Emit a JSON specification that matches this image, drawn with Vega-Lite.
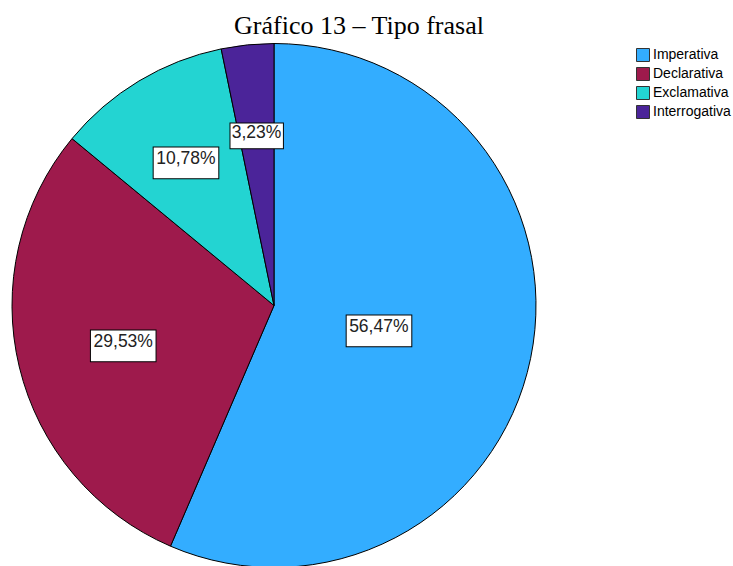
{
  "$schema": "https://vega.github.io/schema/vega-lite/v6.json",
  "autosize": {"type": "none"},
  "width": 548,
  "height": 611,
  "padding": {"left": 0, "top": 0, "right": 185, "bottom": -45},
  "background": "white",
  "title": {
    "text": "Gráfico 13 – Tipo frasal",
    "anchor": "middle",
    "frame": "group",
    "offset": 0,
    "dx": 85,
    "dy": 39,
    "font": "Liberation Serif",
    "fontSize": 26,
    "fontWeight": "normal",
    "color": "black"
  },
  "data": {
    "values": [
      {"category": "Imperativa", "ord": 1, "pct": 56.47, "label": "56,47%"},
      {"category": "Declarativa", "ord": 2, "pct": 29.53, "label": "29,53%"},
      {"category": "Exclamativa", "ord": 3, "pct": 10.78, "label": "10,78%"},
      {"category": "Interrogativa", "ord": 4, "pct": 3.23, "label": "3,23%"}
    ]
  },
  "encoding": {
    "theta": {"field": "pct", "type": "quantitative", "stack": true},
    "order": {"field": "ord", "type": "quantitative"}
  },
  "layer": [
    {
      "mark": {"type": "arc", "outerRadius": 262, "stroke": "black", "strokeWidth": 1},
      "encoding": {
        "color": {
          "field": "category",
          "type": "nominal",
          "scale": {
            "domain": ["Imperativa", "Declarativa", "Exclamativa", "Interrogativa"],
            "range": ["#33adff", "#9e1a4c", "#23d4d2", "#4b2499"]
          },
          "legend": {
            "title": null,
            "orient": "none",
            "legendX": 636,
            "legendY": 48,
            "padding": 0,
            "symbolType": "square",
            "symbolSize": 169,
            "symbolStrokeColor": "#333333",
            "symbolStrokeWidth": 1,
            "symbolOpacity": 1,
            "labelFont": "Liberation Sans",
            "labelFontSize": 14,
            "labelColor": "black",
            "labelOffset": 3,
            "rowPadding": 1
          }
        }
      }
    },
    {
      "mark": {"type": "text", "text": "▬", "font": "DejaVu Sans", "fill": "white", "stroke": "black", "strokeWidth": 1, "align": "center", "baseline": "middle"},
      "encoding": {
        "detail": {"field": "category", "type": "nominal"},
        "radius": {"field": "pct", "type": "quantitative", "scale": {"type": "pow", "exponent": 2, "domain": [3.23, 56.47], "range": [173, 107], "zero": false}},
        "size": {"condition": {"test": "datum.category === 'Interrogativa'", "value": 70}, "value": 86}
      }
    },
    {
      "mark": {"type": "text", "font": "Liberation Sans", "fontSize": 17.5, "fill": "#222222", "align": "center", "baseline": "middle"},
      "encoding": {
        "detail": {"field": "category", "type": "nominal"},
        "text": {"field": "label", "type": "nominal"},
        "radius": {"field": "pct", "type": "quantitative", "scale": {"type": "pow", "exponent": 2, "domain": [3.23, 56.47], "range": [173, 107], "zero": false}}
      }
    }
  ]
}
